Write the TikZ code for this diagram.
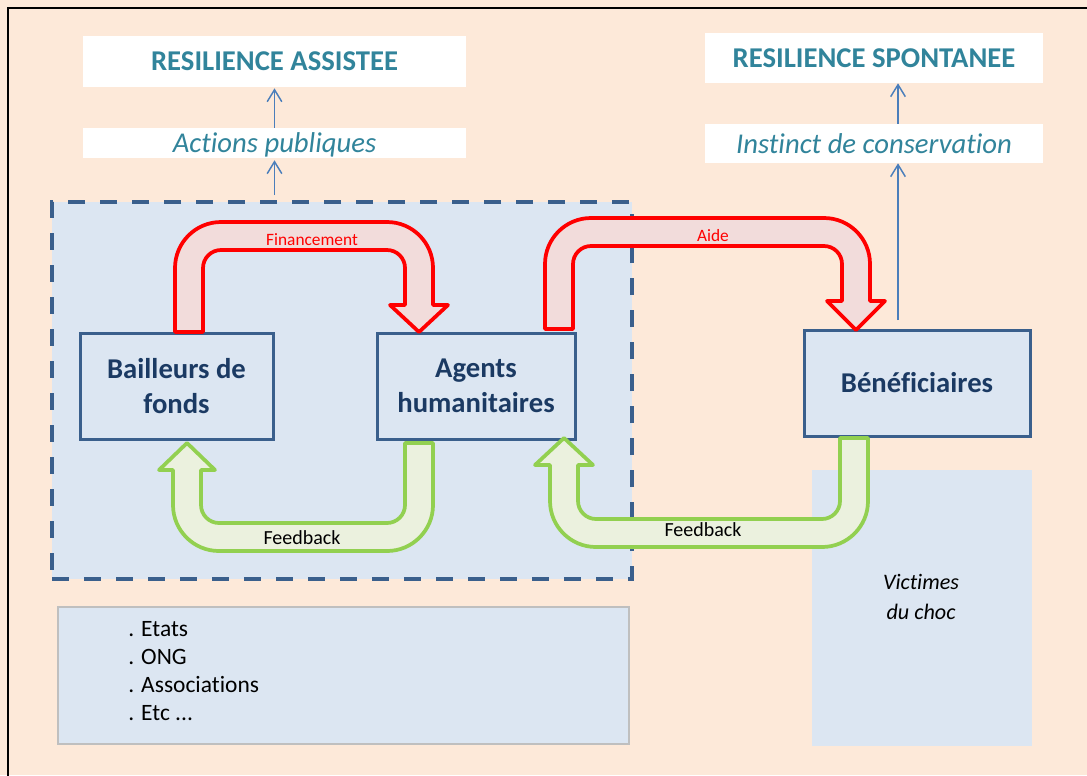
\documentclass[tikz,border=0pt]{standalone}
\usepackage{fontspec}
\setmainfont{Carlito}[Ligatures=NoCommon]
\usetikzlibrary{arrows.meta}
\definecolor{peach}{HTML}{FDE9D9}
\definecolor{lightblue}{HTML}{DCE6F2}
\definecolor{boxline}{HTML}{3A5F8C}
\definecolor{boxtext}{HTML}{1B3A63}
\definecolor{teal}{HTML}{31849B}
\definecolor{redfill}{HTML}{F2DCDB}
\definecolor{greenline}{HTML}{92D050}
\definecolor{greenfill}{HTML}{EBF1DE}
\definecolor{bluearrow}{HTML}{4A7EBB}
\definecolor{listline}{HTML}{BFBFBF}
\begin{document}
\begin{tikzpicture}[x=0.75pt,y=-0.75pt,
  titlebox/.style={fill=white, draw=none, inner sep=0pt, text=teal, font=\fontsize{21.5}{26}\selectfont\bfseries},
  subbox/.style={fill=white, draw=none, inner sep=0pt, text depth=0pt, text=teal, font=\fontsize{21.5}{26}\selectfont\itshape},
  mainbox/.style={fill=lightblue, draw=boxline, line width=2.25pt, inner sep=0pt, align=center, text=boxtext, font=\fontsize{21.5}{26}\selectfont\bfseries},
  redarrow/.style={fill=redfill, draw=red, line width=2.8pt, line join=round},
  greenarrow/.style={fill=greenfill, draw=greenline, line width=2.8pt, line join=round},
  upline/.style={draw=bluearrow, line width=1.1pt, -{Straight Barb[length=9pt,width=11pt,line width=1.1pt]}},
  redlabel/.style={text=red, font=\fontsize{13}{15}\selectfont, inner sep=0pt},
  fblabel/.style={text=black, font=\fontsize{15}{18}\selectfont, inner sep=0pt}
]
\useasboundingbox (0,0) rectangle (1087,775);
\fill[peach] (0,0) rectangle (1087,775);
\draw[black, line width=1.6pt] (8,790) -- (8,8) -- (1100,8);

% group (dashed)
\node[fill=lightblue, draw=boxline, line width=2.4pt, dash pattern=on 12.75pt off 11.25pt,
      minimum width=435pt, minimum height=282.75pt, inner sep=0pt] (grp) at (342,390.5) {};

% victims area
\node[fill=lightblue, draw=none, minimum width=165pt, minimum height=207pt, inner sep=0pt] (vict) at (922,608) {};
\node[align=center, font=\fontsize{16.6}{22.5}\selectfont\itshape, inner sep=0pt] (victxt) at (921,597) {Victimes\\du choc};

% list box
\node[fill=lightblue, draw=listline, line width=1.1pt, minimum width=428.25pt, minimum height=102.75pt, inner sep=0pt] (list) at (343.5,675.5) {};
\node[anchor=west, align=left, font=\fontsize{17.6}{21}\selectfont, inner sep=0pt] (listtxt) at (128,671.5) {. Etats\\. ONG\\. Associations\\. Etc ...};

% title boxes
\node[titlebox, minimum width=287.25pt, minimum height=38.25pt] (rass) at (274.5,61.5) {RESILIENCE ASSISTEE};
\node[subbox, minimum width=287.25pt, minimum height=22.5pt] (act) at (274.5,143) {Actions publiques};
\node[titlebox, minimum width=253.5pt, minimum height=37.5pt] (rsp) at (874,58) {RESILIENCE SPONTANEE};
\node[subbox, minimum width=253.5pt, minimum height=29.25pt] (inst) at (874,143.5) {Instinct de conservation};

% main boxes
\node[mainbox, minimum width=144.75pt, minimum height=79.5pt] (bail) at (176.5,386) {Bailleurs de\\fonds};
\node[mainbox, minimum width=148.5pt, minimum height=79.5pt] (agents) at (476,386) {Agents\\humanitaires};
\node[mainbox, minimum width=169.5pt, minimum height=79.5pt] (benef) at (917,383) {Bénéficiaires};

% Financement arrow
\filldraw[redarrow] (175,332) -- (175,268) .. controls (175,242.6) and (195.6,222) .. (221,222)
  -- (387,222) .. controls (412.4,222) and (433,242.6) .. (433,268)
  -- (433,305) -- (448,305) -- (419,332) -- (390,305) -- (405,305)
  -- (405,268) .. controls (405,258.1) and (396.9,250) .. (387,250)
  -- (221,250) .. controls (211.1,250) and (203,258.1) .. (203,268)
  -- (203,332) -- cycle;
\node[redlabel] (fin) at (312,240) {Financement};

% Aide arrow
\filldraw[redarrow] (545,329) -- (545,264) .. controls (545,238.6) and (565.6,218) .. (591,218)
  -- (824,218) .. controls (849.4,218) and (870,238.6) .. (870,264)
  -- (870,301) -- (885,301) -- (856,330) -- (827,301) -- (842,301)
  -- (842,264) .. controls (842,254.1) and (833.9,246) .. (824,246)
  -- (591,246) .. controls (581.1,246) and (573,254.1) .. (573,264)
  -- (573,329) -- cycle;
\node[redlabel] (aide) at (713,236) {Aide};

% Feedback arrow 1
\filldraw[greenarrow] (405,443) -- (433,443) -- (433,505) .. controls (433,530.4) and (412.4,551) .. (387,551)
  -- (219,551) .. controls (193.6,551) and (173,530.4) .. (173,505)
  -- (173,470) -- (159,470) -- (187,443) -- (215,470) -- (201,470)
  -- (201,505) .. controls (201,514.9) and (209.1,523) .. (219,523)
  -- (387,523) .. controls (396.9,523) and (405,514.9) .. (405,505) -- cycle;
\node[fblabel] (fb1) at (302,538) {Feedback};

% Feedback arrow 2
\filldraw[greenarrow] (840,438) -- (868,438) -- (868,501) .. controls (868,526.4) and (847.4,547) .. (822,547)
  -- (596,547) .. controls (570.6,547) and (550,526.4) .. (550,501)
  -- (550,465) -- (535,465) -- (564,438) -- (593,465) -- (578,465)
  -- (578,501) .. controls (578,510.9) and (586.1,519) .. (596,519)
  -- (822,519) .. controls (831.9,519) and (840,510.9) .. (840,501) -- cycle;
\node[fblabel] (fb2) at (703,530) {Feedback};

% blue arrows
\coordinate (g1) at (274.5,195);
\coordinate (b1) at (898,320);
\draw[upline] (g1) -- ([yshift=-1.5pt]act.south);
\draw[upline] (act.north) -- ([yshift=-0.8pt]rass.south);
\draw[upline] (b1) -- (b1 |- inst.south);
\draw[upline] (b1 |- inst.north) -- (b1 |- rsp.south);
\end{tikzpicture}
\end{document}
